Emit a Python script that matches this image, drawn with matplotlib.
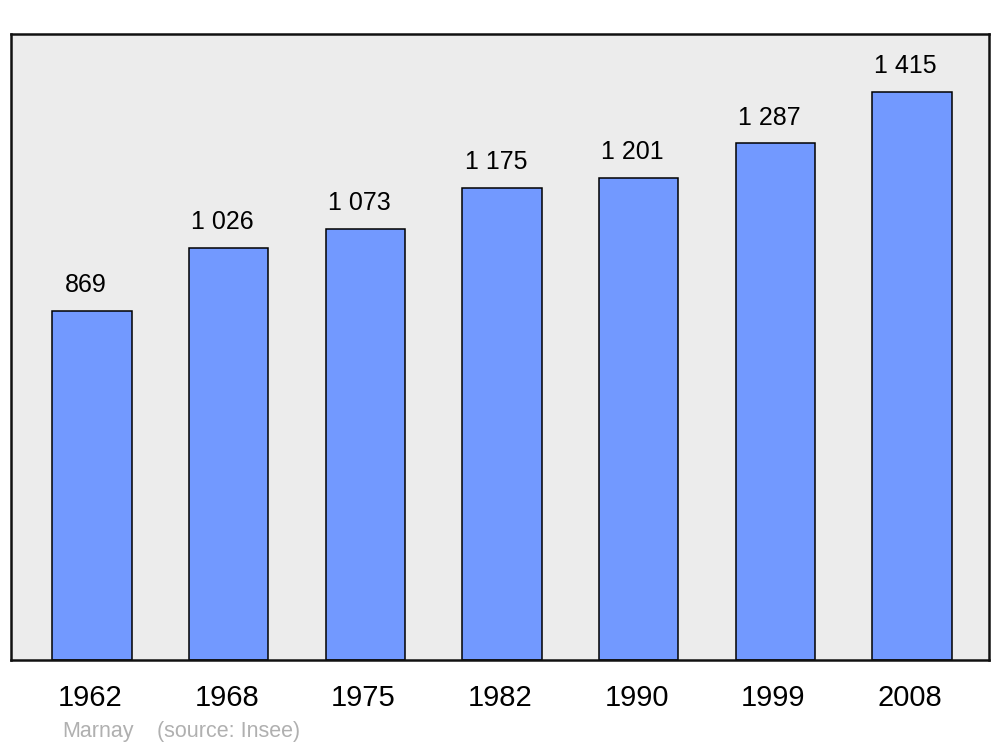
import matplotlib
matplotlib.use("Agg")
import matplotlib.pyplot as plt

years = ["1962", "1968", "1975", "1982", "1990", "1999", "2008"]
population = [869, 1026, 1073, 1175, 1201, 1287, 1415]
value_labels = ["869", "1 026", "1 073", "1 175", "1 201", "1 287", "1 415"]
commune = "Marnay"
source = "(source: Insee)"

plt.rcParams['font.family'] = ['Liberation Sans', 'DejaVu Sans']

fig = plt.figure(figsize=(10, 7.47), dpi=100)
ax = fig.add_axes([0.011, 87 / 747, 0.978, 626 / 747])
ax.set_facecolor("#ececec")

x = list(range(len(years)))
ax.bar(x, population, width=0.58, color="#7299ff", edgecolor="black", linewidth=1.1)
for xi, v, lab in zip(x, population, value_labels):
    ax.annotate(lab, (xi, v), xytext=(-4.5, 18.5), textcoords="offset points",
                ha="center", va="center", fontsize=18, color="black")

ax.set_xlim(-0.593, 6.563)
ax.set_ylim(0, 1559)
ax.set_xticks([xi - 0.015 for xi in x])
ax.set_xticklabels(years, fontsize=21)
ax.tick_params(axis="x", length=0, pad=17)
ax.set_yticks([])
for s in ax.spines.values():
    s.set_linewidth(1.8)
    s.set_color("#111111")

fig.text(0.062, 1 - 731 / 747, commune, fontsize=15.5, color="#b0b0b0", ha="left", va="center")
fig.text(0.157, 1 - 731 / 747, source, fontsize=15.5, color="#b0b0b0", ha="left", va="center")

fig.savefig("out.png", dpi=100)
